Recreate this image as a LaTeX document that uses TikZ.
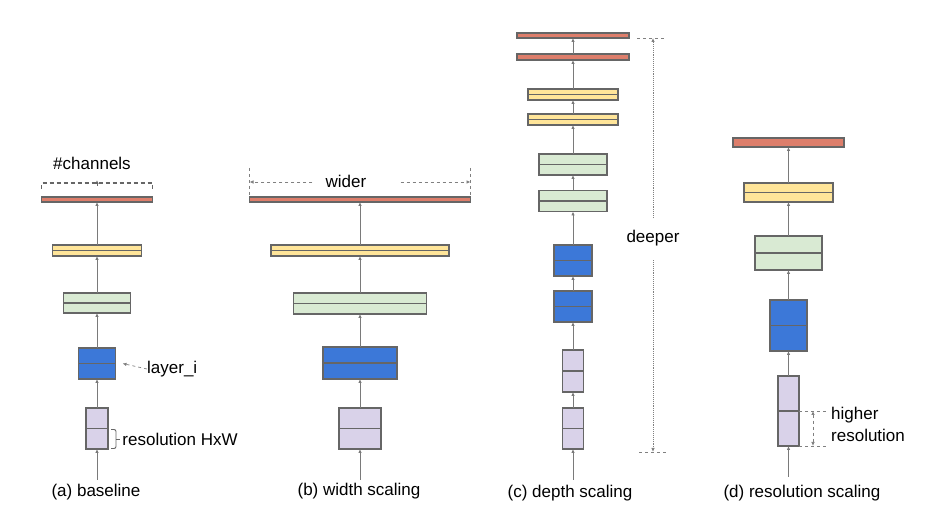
\documentclass[tikz,border=0pt]{standalone}
\usepackage{fontspec}
\setmainfont{Liberation Sans}
\usetikzlibrary{arrows.meta, positioning, calc}

\definecolor{barred}{HTML}{DD7E6B}
\definecolor{baryellow}{HTML}{FFE599}
\definecolor{bargreen}{HTML}{D9EAD3}
\definecolor{barblue}{HTML}{3C78D8}
\definecolor{barpurple}{HTML}{D9D2E9}
\definecolor{edgegray}{HTML}{666666}
\definecolor{linegray}{HTML}{7A7A7A}

\begin{document}
\begin{tikzpicture}[
	  x=1pt, y=-1pt,
	  font=\fontsize{17}{22}\selectfont,
	  box/.style={
	    draw=edgegray,
	    line width=1.1pt,
	    inner sep=0pt,
	    outer sep=0pt
	  },
	  layerbox/.style={box,
	    path picture={\draw[edgegray,line width=1.1pt] (path picture bounding box.west) -- (path picture bounding box.east);}},
	  redbox/.style={box,fill=barred},
	  yellowbox/.style={layerbox,fill=baryellow},
	  greenbox/.style={layerbox,fill=bargreen},
	  bluebox/.style={layerbox,fill=barblue},
	  purplebox/.style={layerbox,fill=barpurple},
	  arrow/.style={-{Latex[length=4pt,width=3.5pt]},linegray,line width=0.9pt},
	  dashedarrow/.style={-{Latex[length=4pt,width=3.5pt]},gray,dashed,line width=0.7pt},
	  dottedarrow/.style={-{Latex[length=4pt,width=3.5pt]},gray,densely dotted,line width=0.9pt},
	  guide/.style={gray,dashed,line width=0.7pt},
	  caption/.style={inner sep=0pt,text=black}
	]
	\useasboundingbox (0,0) rectangle (938,529);
	
	% (a) baseline
	\coordinate (a0) at (97,480);
	\node[purplebox,minimum width=22pt,minimum height=41pt] (a1) at (97,428.5) {};
	\node[bluebox,minimum width=37pt,minimum height=31pt] (a2) at (97,363.5) {};
	\node[greenbox,minimum width=67pt,minimum height=20pt] (a3) at (97,303) {};
	\node[yellowbox,minimum width=89pt,minimum height=11pt] (a4) at (97,250.5) {};
	\node[redbox,minimum width=111pt,minimum height=5pt] (a5) at (97,199.5) {};
	\node[caption] (acap) at (96,492) {(a) baseline};
	
	\draw[arrow] (a0) -- (a1);
	\draw[arrow] (a1) -- (a2);
	\draw[arrow] (a2) -- (a3);
	\draw[arrow] (a3) -- (a4);
	\draw[arrow] (a4) -- (a5);
	
	\node[caption] (channels) at (92,163) {\#channels};
	\draw[edgegray,line width=1.2pt,dash pattern=on 4pt off 3pt] ($(a5.north west)+(0,-8)$) -- ++(0,-6) -| ($(a5.north east)+(0,-8)$);
	\draw[-{Latex[length=4pt,width=3.5pt]},edgegray,line width=0.8pt] ($(a5.north)+(0,-11)$) -- ++(0,-6);
	
	\node[caption,anchor=west] (layer) at (147,369) {layer\_i};
	\draw[dashedarrow] (layer.west) -- ($(a2.east)+(7,0)$ |- layer.west);
	
	\draw[edgegray,line width=0.9pt,rounded corners=2pt] ($(a1.east)+(3,1)$) -- ++(5,0) -- ++(0,19) -- ++(-5,0);
	\draw[edgegray,line width=0.9pt] ($(a1.east)+(8,10.5)$) -- ++(4,0) node[caption,anchor=west,inner sep=2pt] (reslabel) {resolution HxW};
	
	% (b) width scaling
	\coordinate (b0) at (360,480);
	\node[purplebox,minimum width=42pt,minimum height=41pt] (b1) at (360,428.5) {};
	\node[bluebox,minimum width=74pt,minimum height=32pt] (b2) at (360,363) {};
	\node[greenbox,minimum width=133pt,minimum height=21pt] (b3) at (360,303.5) {};
	\node[yellowbox,minimum width=178pt,minimum height=11pt] (b4) at (360,250.5) {};
	\node[redbox,minimum width=221pt,minimum height=5pt] (b5) at (360,199.5) {};
	\node[caption] (bcap) at (359,491) {(b) width scaling};
	
	\draw[arrow] (b0) -- (b1);
	\draw[arrow] (b1) -- (b2);
	\draw[arrow] (b2) -- (b3);
	\draw[arrow] (b3) -- (b4);
	\draw[arrow] (b4) -- (b5);
	
	\node[caption] (wider) at (346,181) {wider};
	\coordinate (wl) at ($(b5.north west)+(0,-15)$);
	\coordinate (wr) at ($(b5.north east)+(0,-15)$);
	\draw[dashedarrow] ($(wider.west)+(-13,1)$) -- (wl);
	\draw[dashedarrow] ($(wider.east)+(34,1)$) -- (wr);
	\draw[guide] ($(b5.north west)+(0,-29)$) -- (b5.north west);
	\draw[guide] ($(b5.north east)+(0,-29)$) -- (b5.north east);
	
	% (c) depth scaling
	\coordinate (c0) at (573,480);
	\node[purplebox,minimum width=21pt,minimum height=41pt] (c1) at (573,428.5) {};
	\node[purplebox,minimum width=21pt,minimum height=42pt] (c2) at (573,371) {};
	\node[bluebox,minimum width=38pt,minimum height=31pt] (c3) at (573,306.5) {};
	\node[bluebox,minimum width=38pt,minimum height=31pt] (c4) at (573,260.5) {};
	\node[greenbox,minimum width=68pt,minimum height=21pt] (c5) at (573,201) {};
	\node[greenbox,minimum width=68pt,minimum height=21pt] (c6) at (573,164.5) {};
	\node[yellowbox,minimum width=90pt,minimum height=11pt] (c7) at (573,119.5) {};
	\node[yellowbox,minimum width=90pt,minimum height=11pt] (c8) at (573,94.5) {};
	\node[redbox,minimum width=112pt,minimum height=6pt] (c9) at (573,57) {};
	\node[redbox,minimum width=112pt,minimum height=5pt] (c10) at (573,35.5) {};
	\node[caption] (ccap) at (570,493) {(c) depth scaling};
	
	\draw[arrow] (c0) -- (c1);
	\draw[arrow] (c1) -- (c2);
	\draw[arrow] (c2) -- (c3);
	\draw[arrow] (c3) -- (c4);
	\draw[arrow] (c4) -- (c5);
	\draw[arrow] (c5) -- (c6);
	\draw[arrow] (c6) -- (c7);
	\draw[arrow] (c7) -- (c8);
	\draw[arrow] (c8) -- (c9);
	\draw[arrow] (c9) -- (c10);
	
	\node[caption] (deeper) at (653,238) {deeper};
	\coordinate (dtop) at (653,38);
	\coordinate (dbot) at (653,452);
	\draw[guide] ($(dtop)+(-16,0)$) -- ($(dtop)+(12,0)$);
	\draw[guide] ($(dbot)+(-14,0)$) -- ($(dbot)+(14,0)$);
	\draw[dottedarrow] ($(deeper.north)+(0,-12)$) -- (dtop);
	\draw[dottedarrow] ($(deeper.south)+(0,14)$) -- (dbot);
	
	% (d) resolution scaling
	\coordinate (d0) at (788.5,477);
	\node[purplebox,minimum width=21pt,minimum height=70pt] (d1) at (788.5,411) {};
	\node[bluebox,minimum width=37pt,minimum height=51pt] (d2) at (788.5,325.5) {};
	\node[greenbox,minimum width=67pt,minimum height=34pt] (d3) at (788.5,253) {};
	\node[yellowbox,minimum width=89pt,minimum height=19pt] (d4) at (788.5,192.5) {};
	\node[redbox,minimum width=111pt,minimum height=9pt] (d5) at (788.5,142.5) {};
	\node[caption] (dcap) at (802,493) {(d) resolution scaling};
	
	\draw[arrow] (d0) -- (d1);
	\draw[arrow] (d1) -- (d2);
	\draw[arrow] (d2) -- (d3);
	\draw[arrow] (d3) -- (d4);
	\draw[arrow] (d4) -- (d5);
	
	\draw[guide] (d1.east) -- ++(28,0);
	\draw[guide] (d1.south east) -- ++(28,0);
	\draw[dashedarrow,{Latex[length=4pt,width=3.5pt]}-{Latex[length=4pt,width=3.5pt]}] ($(d1.east)+(14,0)$) -- ($(d1.south east)+(14,0)$);
	\node[caption,anchor=west,align=left] (higher) at (831,424) {higher\\resolution};
	
	\end{tikzpicture}
\end{document}
